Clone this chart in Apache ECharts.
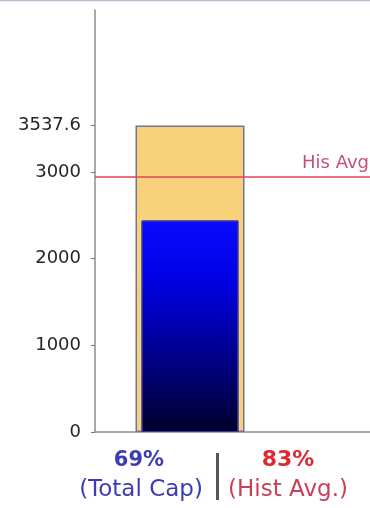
<!DOCTYPE html>
<html>
<head>
<meta charset="utf-8">
<script src="https://cdn.jsdelivr.net/npm/echarts@6/dist/echarts.min.js"></script>
<style>
  html, body { margin: 0; padding: 0; background: #fff; }
  #chart { width: 370px; height: 508px; }
</style>
</head>
<body>
<div id="chart"></div>
<script>
// Capacity gauge: total capacity bar, current usage bar, historical average line
const categories = ['Capacity', ''];
const totalCap = [3537.6, null];
const currentUse = [2441, null];
const histAvg = 2941;
const yTickValues = [0, 1000, 2000, 3000, 3537.6];
const yMax = 4870;

const FONT = '"DejaVu Sans", Verdana, sans-serif';

const chart = echarts.init(document.getElementById('chart'), null, { renderer: 'canvas' });

const pctTotal = Math.round(currentUse[0] / totalCap[0] * 100);
const pctHist = Math.round(currentUse[0] / histAvg * 100);

const hiddenCat = {
  type: 'category', data: categories, show: false,
  axisLine: { show: false }, axisTick: { show: false }, axisLabel: { show: false }
};

const option = {
  animation: false,
  backgroundColor: '#fff',
  // the plot runs past the right edge of the canvas
  grid: { left: 95, top: 10, bottom: 76, width: 380, containLabel: false, outerBoundsMode: 'none' },
  xAxis: [
    {
      type: 'category',
      data: categories,
      axisLine: { lineStyle: { color: '#8c8c8c', width: 1.5 } },
      axisTick: { alignWithLabel: true, length: 4, lineStyle: { color: '#777' } },
      axisLabel: { show: false },
      splitLine: { show: false }
    },
    hiddenCat
  ],
  yAxis: {
    type: 'value',
    min: 0,
    max: yMax,
    axisLine: { show: true, lineStyle: { color: '#8c8c8c', width: 1.5 } },
    axisTick: { show: true, length: 4, customValues: yTickValues, lineStyle: { color: '#777' } },
    axisLabel: {
      customValues: yTickValues,
      formatter: v => String(v),
      color: '#262626',
      fontFamily: FONT,
      fontSize: 18,
      margin: 14
    },
    splitLine: { show: false }
  },
  series: [
    {
      name: 'Total Cap',
      type: 'bar',
      xAxisIndex: 0,
      data: totalCap,
      barWidth: 109,
      z: 2,
      itemStyle: { color: '#f7d27a', borderColor: '#72729a', borderWidth: 1.5 }
    },
    {
      name: 'Current',
      type: 'bar',
      xAxisIndex: 1,
      data: currentUse,
      barWidth: 97,
      z: 3,
      itemStyle: {
        color: new echarts.graphic.LinearGradient(0, 0, 0, 1, [
          { offset: 0, color: '#0a0aff' },
          { offset: 0.3, color: '#0000e0' },
          { offset: 0.62, color: '#000090' },
          { offset: 1, color: '#00002c' }
        ]),
        borderColor: '#3a3aa0',
        borderWidth: 1
      },
      markLine: {
        silent: true,
        symbol: 'none',
        z: 5,
        label: { show: false },
        lineStyle: { color: '#e8405a', width: 1.5, type: 'solid' },
        data: [{ yAxis: histAvg }]
      }
    }
  ]
};

chart.setOption(option);

// Line caption placed from the axis scale
const yHist = chart.convertToPixel({ yAxisIndex: 0 }, histAvg);

chart.setOption({
  graphic: [
    { type: 'line', shape: { x1: 0, y1: 0.5, x2: 370, y2: 0.5 }, style: { stroke: '#b4c0d2', lineWidth: 1.5 } },
    {
      type: 'text', x: 302, y: yHist - 5,
      style: { text: 'His Avg', fill: '#c65072', font: '18px ' + FONT, textVerticalAlign: 'bottom' }
    },
    {
      type: 'text', x: 139, y: 461,
      style: { text: pctTotal + '%', fill: '#3c3cb4', font: 'bold 21px ' + FONT, textAlign: 'center', textVerticalAlign: 'middle' }
    },
    {
      type: 'text', x: 141, y: 490,
      style: { text: '(Total Cap)', fill: '#3c3cb4', font: '23px ' + FONT, textAlign: 'center', textVerticalAlign: 'middle' }
    },
    { type: 'rect', shape: { x: 216, y: 453, width: 3, height: 47 }, style: { fill: '#555' } },
    {
      type: 'text', x: 288, y: 460,
      style: { text: pctHist + '%', fill: '#e02830', font: 'bold 22px ' + FONT, textAlign: 'center', textVerticalAlign: 'middle' }
    },
    {
      type: 'text', x: 288, y: 490,
      style: { text: '(Hist Avg.)', fill: '#c8405a', font: '23px ' + FONT, textAlign: 'center', textVerticalAlign: 'middle' }
    }
  ]
});
</script>
</body>
</html>
